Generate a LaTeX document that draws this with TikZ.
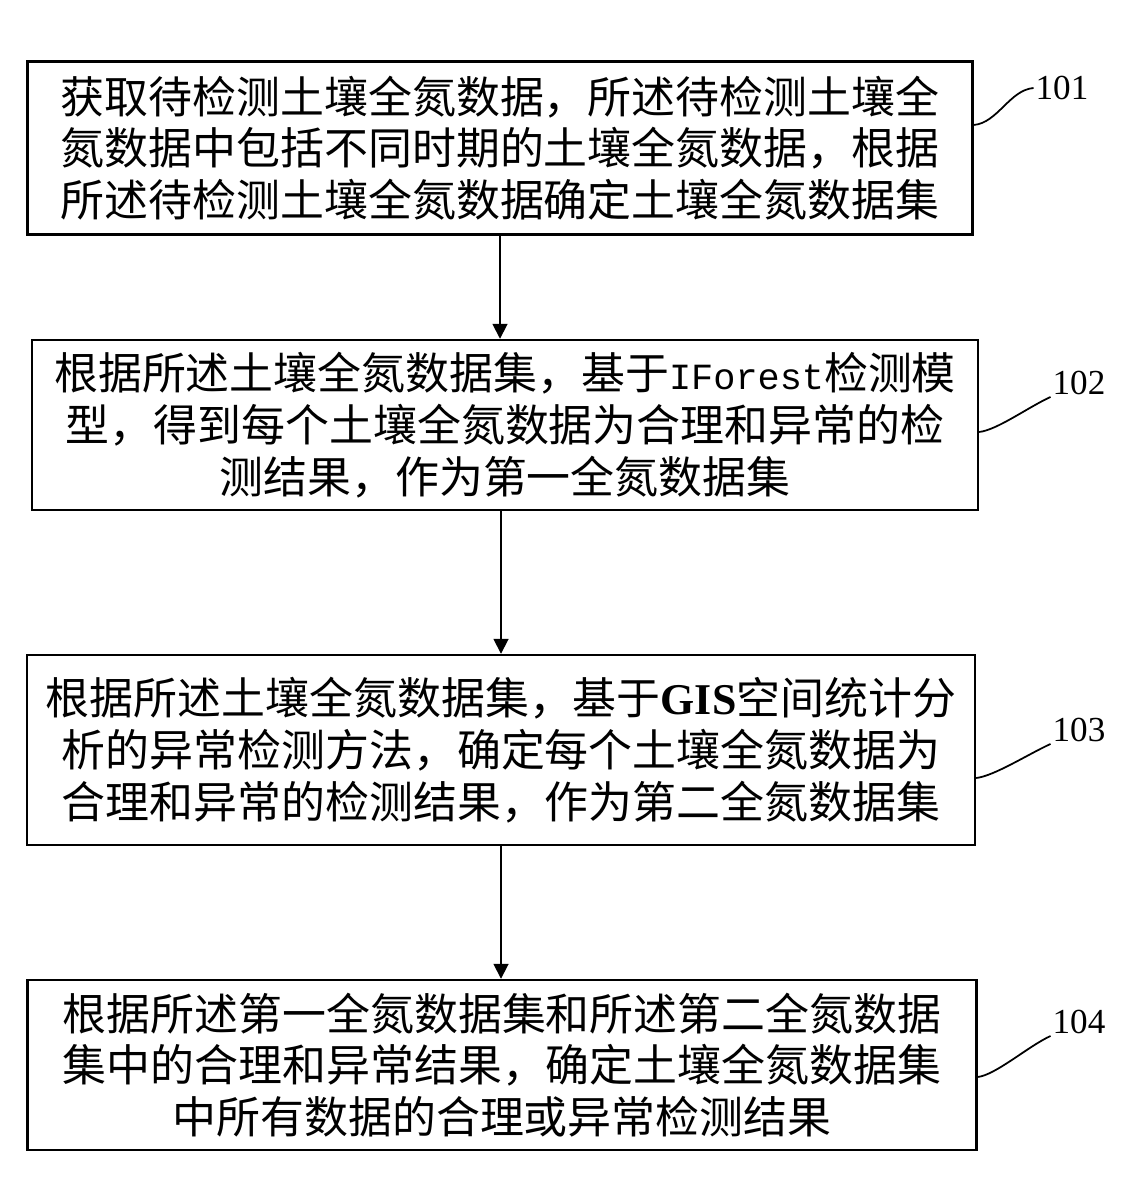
\documentclass[tikz,border=0pt]{standalone}
\usepackage{fontspec}
\setmainfont{Liberation Serif}
\setmonofont{Liberation Mono}
\newfontfamily\cjk{Noto Sans CJK SC}
\usepackage{tikz}
\usetikzlibrary{arrows.meta,calc}

\begin{document}
\begin{tikzpicture}[x=0.02cm,y=-0.02cm,>={Triangle[length=8.5pt,width=8.5pt]},
  stepbox/.style={draw,line width=1.4pt,align=center,inner sep=0pt,font=\cjk\fontsize{25pt}{29.5pt}\selectfont},
  tag/.style={inner sep=1pt,font=\fontsize{20pt}{24pt}\selectfont},
  leader/.style={line width=1pt}]
  \useasboundingbox[fill=white] (0,0) rectangle (1137,1195);
  \node[stepbox,minimum width=18.9cm,minimum height=3.46cm] (acquire) at (500,148) {获取待检测土壤全氮数据，所述待检测土壤全\\氮数据中包括不同时期的土壤全氮数据，根据\\所述待检测土壤全氮数据确定土壤全氮数据集};
  \node[stepbox,minimum width=18.92cm,minimum height=3.4cm] (iforest) at (505,425) {根据所述土壤全氮数据集，基于{\ttfamily\fontsize{21pt}{29.5pt}\selectfont IForest}检测模\\型，得到每个土壤全氮数据为合理和异常的检\\测结果，作为第一全氮数据集};
  \node[stepbox,minimum width=18.96cm,minimum height=3.8cm] (gis) at (501,750) {根据所述土壤全氮数据集，基于{\rmfamily\bfseries GIS}空间统计分\\析的异常检测方法，确定每个土壤全氮数据为\\合理和异常的检测结果，作为第二全氮数据集};
  \node[stepbox,minimum width=18.98cm,minimum height=3.4cm] (combine) at (502,1065) {根据所述第一全氮数据集和所述第二全氮数据\\集中的合理和异常结果，确定土壤全氮数据集\\中所有数据的合理或异常检测结果};
  \node[tag] (l101) at (1062,88) {101};
  \node[tag] (l102) at (1079,383) {102};
  \node[tag] (l103) at (1079,730) {103};
  \node[tag] (l104) at (1079,1022) {104};
  \draw[->,line width=1pt] (acquire.south) -- (acquire.south |- iforest.north);
  \draw[->,line width=1pt] (iforest.south -| gis.north) -- (gis.north);
  \draw[->,line width=1pt] (gis.south) -- (gis.south |- combine.north);
  \draw[leader] ($(acquire.east)+(0,-23)$) .. controls +(24,-2) and +(-24,2) .. (l101.west);
  \draw[leader] ($(iforest.east)+(0,7)$) .. controls +(18,-2) and +(-22,10) .. (l102.south west);
  \draw[leader] ($(gis.east)+(0,28)$) .. controls +(18,-2) and +(-22,10) .. (l103.south west);
  \draw[leader] ($(combine.east)+(0,12)$) .. controls +(18,-2) and +(-22,10) .. (l104.south west);
\end{tikzpicture}
\end{document}
